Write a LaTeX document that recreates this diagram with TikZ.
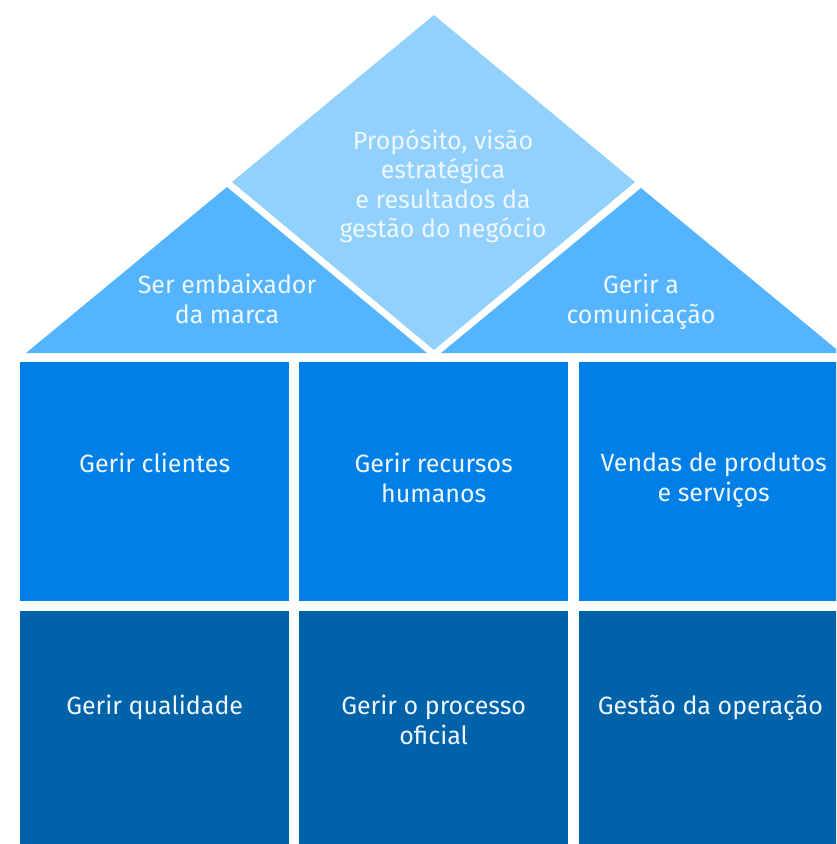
\documentclass[tikz,border=0pt]{standalone}
\usepackage{fontspec}
\setmainfont{Fira Sans}
\usetikzlibrary{calc}
\definecolor{peakblue}{HTML}{92D1FC}
\definecolor{sideblue}{HTML}{54B4FD}
\definecolor{wallblue}{HTML}{0080E6}
\definecolor{baseblue}{HTML}{0062A8}
\definecolor{labelwhite}{HTML}{EEF6FF}
\newcommand*{\HouseCells}[1]{% #1 = list of name/x/y/text y/fill/text
  \foreach \cname/\cx/\cy/\ty/\cfill/\ctext in {#1} {
    \node (\cname) [fill=\cfill, inner sep=0pt, minimum width=269pt, minimum height=239pt,
      anchor=north west] at (\cx,\cy) {};
    \node (\cname-txt) [label text, anchor=north] at (\cname.north |- 0,\ty) {\ctext};
    }%
}

\begin{document}
\begin{tikzpicture}[x=1pt, y=-1pt,
    label text/.style={text=labelwhite, align=center, inner sep=0pt,
      font=\fontsize{25}{29.5}\selectfont}]
    \useasboundingbox (0,0) rectangle (836,844);
    \clip (0,0) rectangle (836,844);
    \begin{scope}[local bounding box=roof]
        \fill[peakblue] (434,15) -- (635,182) -- (434,350) -- (232,182) -- cycle;
        \fill[sideblue] (26,353) -- (227,187) -- (427,353) -- cycle;
        \fill[sideblue] (441,353) -- (641,188) -- (841,353) -- cycle;
        \node (vision) [label text] at (443,186)
          {Propósito, visão\\estratégica\\e resultados da\\gestão do negócio};
        \node (brand) [label text] at (227,299) {Ser embaixador\\da marca};
        \node (comms) [label text] at (641,302) {Gerir a\\comunicação};
    \end{scope}
    \begin{scope}[local bounding box=walls]
         \HouseCells{
            clients/20/362/453/wallblue/Gerir clientes,
            people/299/362/453/wallblue/Gerir recursos\\humanos,
            sales/579/362/453/wallblue/Vendas de produtos\\e serviços,
            quality/20/611/695/baseblue/Gerir qualidade,
            process/299/611/695/baseblue/Gerir o processo\\oficial,
            operation/579/611/695/baseblue/Gestão da operação
         }
    \end{scope}
\end{tikzpicture}
\end{document}
